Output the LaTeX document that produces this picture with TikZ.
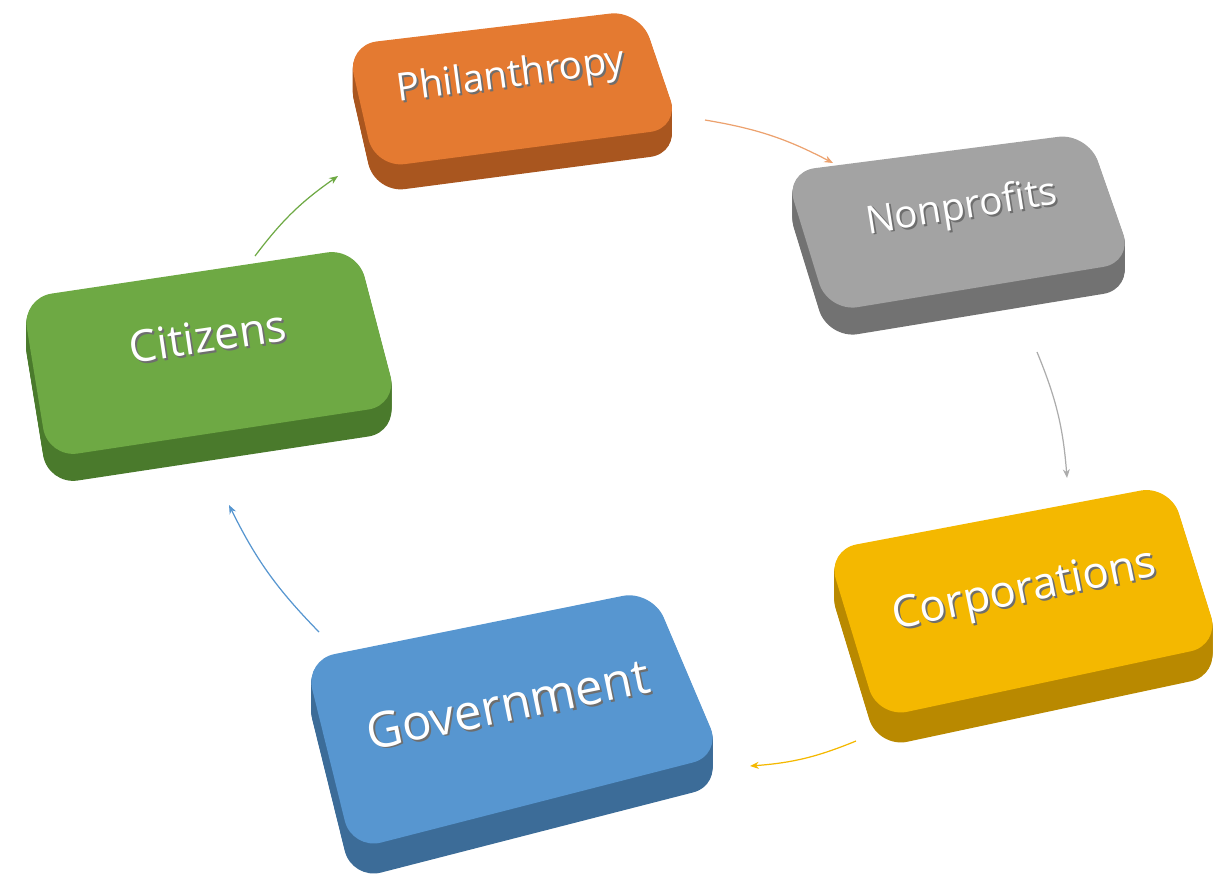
\documentclass[tikz,border=0pt]{standalone}
\usepackage{fontspec}
\setmainfont{Open Sans}
\usepackage{xcolor}
\usepackage{tikz}
\usetikzlibrary{arrows.meta,calc}

\definecolor{philtop}{HTML}{E47A31}
\definecolor{philside}{HTML}{A9561F}
\definecolor{nonptop}{HTML}{A3A3A3}
\definecolor{nonpside}{HTML}{727272}
\definecolor{corptop}{HTML}{F4B800}
\definecolor{corpside}{HTML}{B98900}
\definecolor{govtop}{HTML}{5796D0}
\definecolor{govside}{HTML}{3C6C98}
\definecolor{citztop}{HTML}{6EA944}
\definecolor{citzside}{HTML}{4A7A2C}
\definecolor{shadowgray}{HTML}{6E6E6E}

\newcommand{\embossed}[1]{\makebox[0pt][l]{\hspace{1pt}\raisebox{-1.3pt}{\textcolor{shadowgray}{#1}}}#1}

\begin{document}
\begin{tikzpicture}[
    x=0.02cm, y=-0.02cm,
    slab/.style={rounded corners=0.6cm},
    tag/.style={text=white, inner sep=0pt},
    flow/.style={line width=0.7pt, -{Stealth[length=5pt,width=4pt]}, bend left=9},
  ]
  \useasboundingbox (0,0) rectangle (1230,880);

  % slabs: top face corners, depth, colours
  \foreach \tl/\tr/\br/\bl/\dp/\top/\side in {
      {(347,45)/(640,10)/(680,128)/(375,168)/25/philtop/philside},
      {(785,172)/(1088,133)/(1133,262)/(828,312)/27/nonptop/nonpside},
      {(827,550)/(1170,485)/(1220,645)/(878,718)/30/corptop/corpside},
      {(305,660)/(652,590)/(722,755)/(352,850)/30/govtop/govside},
      {(22,298)/(357,248)/(398,405)/(48,458)/27/citztop/citzside}}
  {
    \foreach \d in {1,2,...,\dp}
      \fill[\side, slab, shift={(0,\d)}] \tl -- \tr -- \br -- \bl -- cycle;
    \fill[\top, slab] \tl -- \tr -- \br -- \bl -- cycle;
  }

  \node[tag, rotate=7.5, font=\fontsize{22}{26}\selectfont] (phil) at (511,78) {\embossed{Philanthropy}};
  \node[tag, rotate=9, font=\fontsize{22}{26}\selectfont] (nonp) at (962,210) {\embossed{Nonprofits}};
  \node[tag, rotate=11.5, font=\fontsize{25}{30}\selectfont] (corp) at (1025,593) {\embossed{Corporations}};
  \node[tag, rotate=11.6, font=\fontsize{28}{33}\selectfont] (gov) at (508,705) {\embossed{Government}};
  \node[tag, rotate=8.4, font=\fontsize{25}{30}\selectfont] (citz) at (208,337) {\embossed{Citizens}};

  % arrows between the slabs
  \coordinate (phil-out) at (705,120);
  \coordinate (nonp-in) at (833,163);
  \coordinate (nonp-out) at (1037,352);
  \coordinate (corp-in) at (1067,478);
  \coordinate (corp-out) at (856,741);
  \coordinate (gov-in) at (750,766);
  \coordinate (gov-out) at (319,632);
  \coordinate (citz-in) at (229,505);
  \coordinate (citz-out) at (255,256);
  \coordinate (phil-in) at (338,176);

  \draw[flow, philtop!70] (phil-out) to (nonp-in);
  \draw[flow, nonptop!90] (nonp-out) to (corp-in);
  \draw[flow, corptop] (corp-out) to (gov-in);
  \draw[flow, govtop] (gov-out) to (citz-in);
  \draw[flow, citztop] (citz-out) to (phil-in);
\end{tikzpicture}
\end{document}
